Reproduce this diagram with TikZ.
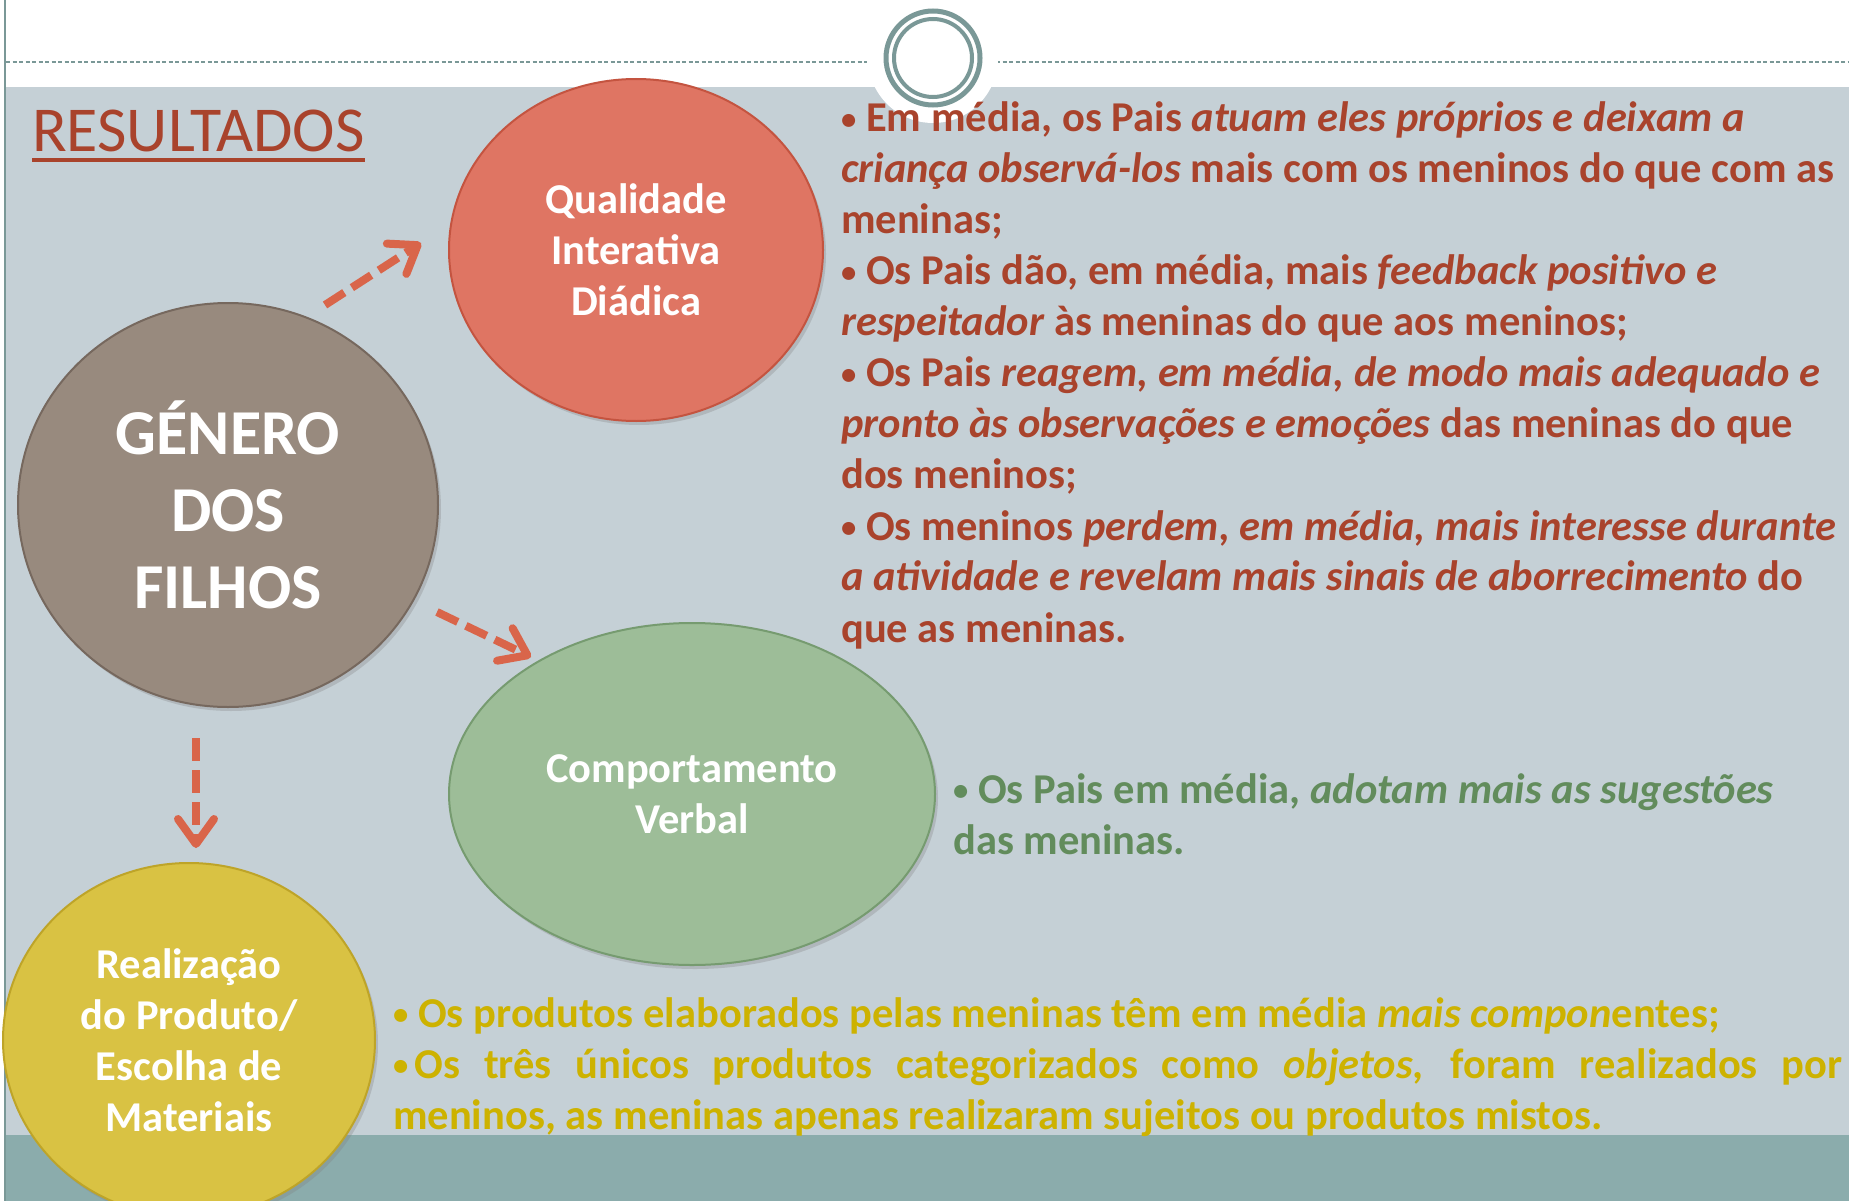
\documentclass[tikz,border=0pt]{standalone}
\usepackage{fontspec}
\usepackage{graphicx}
\setmainfont{Carlito}
\setlength{\parindent}{0pt}
\usetikzlibrary{shapes.geometric}
\usetikzlibrary{arrows.meta}
\usetikzlibrary{shadows}

\definecolor{bgblue}{RGB}{197,208,214}
\definecolor{bandteal}{RGB}{139,172,172}
\definecolor{ringteal}{RGB}{122,152,151}
\definecolor{titlered}{RGB}{169,67,44}
\definecolor{genfill}{RGB}{152,138,126}
\definecolor{genline}{RGB}{118,104,94}
\definecolor{qualfill}{RGB}{223,117,99}
\definecolor{qualline}{RGB}{196,84,64}
\definecolor{compfill}{RGB}{157,189,152}
\definecolor{compline}{RGB}{118,155,112}
\definecolor{realfill}{RGB}{217,194,67}
\definecolor{realline}{RGB}{190,164,40}
\definecolor{arrowred}{RGB}{217,101,74}
\definecolor{txtgreen}{RGB}{98,140,92}
\definecolor{txtyellow}{RGB}{205,178,0}

% marcador pequeno
\newcommand{\marca}{\raisebox{0.07em}{\scalebox{0.72}{•}}}

\tikzset{
  bolha/.style={ellipse, inner sep=0pt, line width=2pt, text=white, align=center,
    font=\bfseries\fontsize{42.5}{51}\selectfont,
    execute at begin node={\spaceskip=0.23em plus 1em minus 0.05em\relax},
    drop shadow={shadow xshift=3pt, shadow yshift=-4pt, opacity=.3}},
  seta/.style={arrowred, line width=8pt, dash pattern=on 23pt off 9pt,
    -{Straight Barb[length=25pt,width=36pt,round]}},
  texto/.style={anchor=base west, inner sep=0pt,
    font=\bfseries\fontsize{42.5}{51}\selectfont,
    execute at begin node={\spaceskip=0.23em plus 1em minus 0.05em\relax}},
}

\begin{document}
\begin{tikzpicture}[x=1pt,y=-1pt]
  \useasboundingbox (0,0) rectangle (1849,1201);
  % fundo
  \fill[white] (0,0) rectangle (1849,87);
  \fill[bgblue] (6,87) rectangle (1849,1135);
  \fill[bandteal] (6,1135) rectangle (1849,1201);
  \draw[ringteal, line width=2pt] (5,0) -- (5,1201);
  \draw[ringteal, line width=2pt, dash pattern=on 4pt off 2.5pt] (6,62) -- (867,62);
  \draw[ringteal, line width=2pt, dash pattern=on 4pt off 2.5pt] (996,62) -- (1849,62);
  % anel
  \fill[white] (933,58) circle[radius=65];
  \draw[ringteal, line width=5pt] (933,58) circle[radius=47];
  \draw[ringteal, line width=4pt] (933,58) circle[radius=39];

  \node[anchor=base west, inner sep=0pt, text=titlered, font=\fontsize{64}{78}\selectfont]
    (titulo) at (32,152) {RESULTADOS};
  \draw[titlered, line width=4pt] ([yshift=-8pt]titulo.base west) -- ([yshift=-8pt]titulo.base east);

  \node[bolha, fill=genfill, draw=genline, minimum width=420pt, minimum height=404pt,
    font=\bfseries\fontsize{64}{77}\selectfont] (genero) at (228,505) {GÉNERO\\DOS\\FILHOS};
  \node[bolha, fill=qualfill, draw=qualline, minimum width=374pt, minimum height=342pt]
    (qualidade) at (636,250) {Qualidade\\Interativa\\Diádica};
  \node[bolha, fill=compfill, draw=compline, minimum width=486pt, minimum height=342pt]
    (comportamento) at (692,794) {Comportamento\\Verbal};
  \node[bolha, fill=realfill, draw=realline, minimum width=372pt, minimum height=354pt]
    (realizacao) at (189,1040) {Realização\\do Produto/\\Escolha de\\Materiais};

  % setas
  \coordinate (a1s) at (325,305);
  \coordinate (a1e) at (421,243);
  \coordinate (a2s) at (437,612);
  \coordinate (a2e) at (531,657);
  \coordinate (a3s) at (196,738);
  \coordinate (a3e) at (196,848);
  \draw[seta] (a1s) -- (a1e);
  \draw[seta] (a2s) -- (a2e);
  \draw[seta] (a3s) -- (a3e);

  % textos
  \node[texto, text=titlered, text width=1100pt] (txtqual) at (841,132) {%
    \marca\ Em média, os Pais \textit{atuam eles próprios e deixam a}\\
    \textit{criança observá-los} mais com os meninos do que com as\\
    meninas;\\
    \marca\ Os Pais dão, em média, mais \textit{feedback positivo e}\\
    \textit{respeitador} às meninas do que aos meninos;\\
    \marca\ Os Pais \textit{reagem, em média, de modo mais adequado e}\\
    \textit{pronto às observações e emoções} das meninas do que\\
    dos meninos;\\
    \marca\ Os meninos \textit{perdem, em média, mais interesse durante}\\
    \textit{a atividade e revelam mais sinais de aborrecimento} do\\
    que as meninas.};
  \node[texto, text=txtgreen, text width=900pt] (txtcomp) at (953,803) {%
    \marca\ Os Pais em média, \textit{adotam mais as sugestões}\\
    das meninas.};
  \node[texto, text=txtyellow, text width=1500pt] (txtreal) at (393,1027) {%
    \marca\ Os produtos elaborados pelas meninas têm em média \textit{mais compon}entes;\\
    \makebox[1449pt][s]{\marca\kern0.15em Os três únicos produtos categorizados como \textit{objetos}, foram realizados por}\\
    meninos, as meninas apenas realizaram sujeitos ou produtos mistos.};
\end{tikzpicture}
\end{document}
